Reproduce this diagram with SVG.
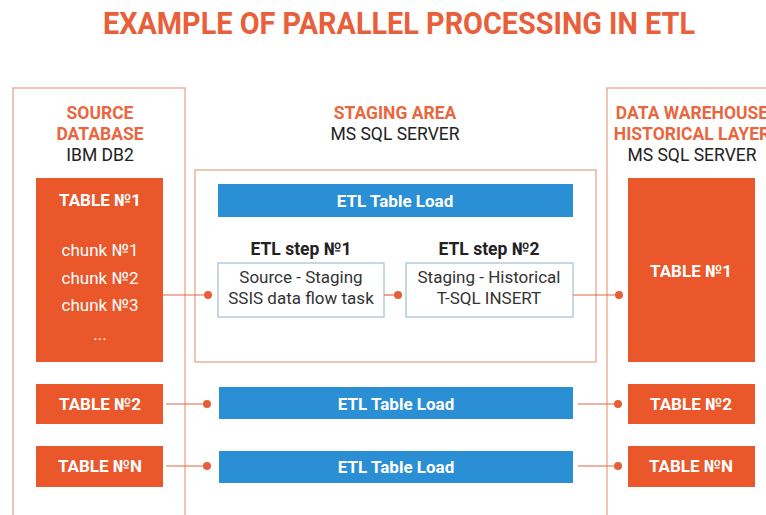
<svg xmlns="http://www.w3.org/2000/svg" width="766" height="515" viewBox="0 0 766 515">
<style>
.panel{fill:none;stroke:#eaa68c;stroke-width:1.3}
.obox{fill:#e9572b}
.bbar{fill:#2a8fd5}
.sbox{fill:#fff;stroke:#a9c3d8;stroke-width:1.3}
.head{font-family:Roboto,"Liberation Sans",sans-serif;font-weight:bold;font-size:17.5px;fill:#e8673f;text-anchor:middle}
.sub{font-family:Roboto,"Liberation Sans",sans-serif;font-size:17.5px;fill:#222;text-anchor:middle}
.wt{font-family:Roboto,"Liberation Sans",sans-serif;font-weight:bold;font-size:17px;fill:#fff;text-anchor:middle}
.wr{font-family:Roboto,"Liberation Sans",sans-serif;font-size:17px;fill:#fff;text-anchor:middle}
.dk{font-family:Roboto,"Liberation Sans",sans-serif;font-weight:bold;font-size:17.5px;fill:#222;text-anchor:middle}
.dr{font-family:Roboto,"Liberation Sans",sans-serif;font-size:17px;fill:#333;text-anchor:middle}
.ln{stroke:#e06a45;stroke-width:1.2;fill:none}
.dot{fill:#e4603a}
</style>
<rect width="766" height="515" fill="#fff"/>
<text x="399" y="34" font-family="Roboto,'Liberation Sans',sans-serif" font-weight="bold" font-size="31" fill="#e8603a" text-anchor="middle" textLength="592" lengthAdjust="spacingAndGlyphs">EXAMPLE OF PARALLEL PROCESSING IN ETL</text>

<g id="source-panel">
<rect class="panel" x="13" y="88" width="172" height="440"/>
<text class="head" x="100" y="119">SOURCE</text>
<text class="head" x="100" y="140">DATABASE</text>
<text class="sub" x="100" y="161">IBM DB2</text>
</g>
<g id="staging-panel">
<text class="head" x="395" y="119">STAGING AREA</text>
<text class="sub" x="395" y="140">MS SQL SERVER</text>
<rect class="panel" x="195" y="170" width="401" height="192"/>
</g>
<g id="dw-panel">
<rect class="panel" x="607" y="88" width="180" height="440"/>
<text class="head" x="692" y="119">DATA WAREHOUSE</text>
<text class="head" x="692" y="140">HISTORICAL LAYER</text>
<text class="sub" x="692" y="161">MS SQL SERVER</text>
</g>

<g id="src-table1">
<rect class="obox" x="36" y="178" width="127" height="184"/>
<text class="wt" x="100" y="206">TABLE №1</text>
<text class="wr" x="100" y="256">chunk №1</text>
<text class="wr" x="100" y="284">chunk №2</text>
<text class="wr" x="100" y="311">chunk №3</text>
<text class="wr" x="100" y="340">...</text>
</g>
<g id="src-table2">
<rect class="obox" x="36" y="384" width="127" height="40"/>
<text class="wt" x="100" y="410">TABLE №2</text>
</g>
<g id="src-tableN">
<rect class="obox" x="36" y="446" width="127" height="41"/>
<text class="wt" x="100" y="472">TABLE №N</text>
</g>

<g id="etl-load1">
<rect class="bbar" x="218" y="184" width="355" height="33"/>
<text class="wt" x="395" y="207">ETL Table Load</text>
</g>
<g id="etl-step1">
<text class="dk" x="301" y="255">ETL step №1</text>
<rect class="sbox" x="218" y="263" width="166" height="54"/>
<text class="dr" x="301" y="283">Source - Staging</text>
<text class="dr" x="301" y="304">SSIS data flow task</text>
</g>
<g id="etl-step2">
<text class="dk" x="489" y="255">ETL step №2</text>
<rect class="sbox" x="406" y="263" width="167" height="54"/>
<text class="dr" x="489" y="283">Staging - Historical</text>
<text class="dr" x="489" y="304">T-SQL INSERT</text>
</g>
<g id="etl-load2">
<rect class="bbar" x="219" y="387" width="354" height="32"/>
<text class="wt" x="396" y="410">ETL Table Load</text>
</g>
<g id="etl-loadN">
<rect class="bbar" x="219" y="451" width="354" height="32"/>
<text class="wt" x="396" y="473">ETL Table Load</text>
</g>

<g id="dw-table1">
<rect class="obox" x="628" y="178" width="127" height="184"/>
<text class="wt" x="691" y="277">TABLE №1</text>
</g>
<g id="dw-table2">
<rect class="obox" x="628" y="384" width="127" height="40"/>
<text class="wt" x="691" y="410">TABLE №2</text>
</g>
<g id="dw-tableN">
<rect class="obox" x="628" y="446" width="127" height="41"/>
<text class="wt" x="691" y="472">TABLE №N</text>
</g>

<g id="connectors">
<line class="ln" x1="163" y1="295" x2="208" y2="295"/><circle class="dot" cx="208" cy="295" r="4"/>
<line class="ln" x1="384" y1="295" x2="398" y2="295"/><circle class="dot" cx="398" cy="295" r="4"/>
<line class="ln" x1="573" y1="295" x2="619" y2="295"/><circle class="dot" cx="619" cy="295" r="4"/>
<line class="ln" x1="166" y1="404" x2="207" y2="404"/><circle class="dot" cx="207" cy="404" r="4"/>
<line class="ln" x1="578" y1="404" x2="618" y2="404"/><circle class="dot" cx="618" cy="404" r="4"/>
<line class="ln" x1="166" y1="466" x2="207" y2="466"/><circle class="dot" cx="207" cy="466" r="4"/>
<line class="ln" x1="578" y1="466" x2="618" y2="466"/><circle class="dot" cx="618" cy="466" r="4"/>
</g>
</svg>
